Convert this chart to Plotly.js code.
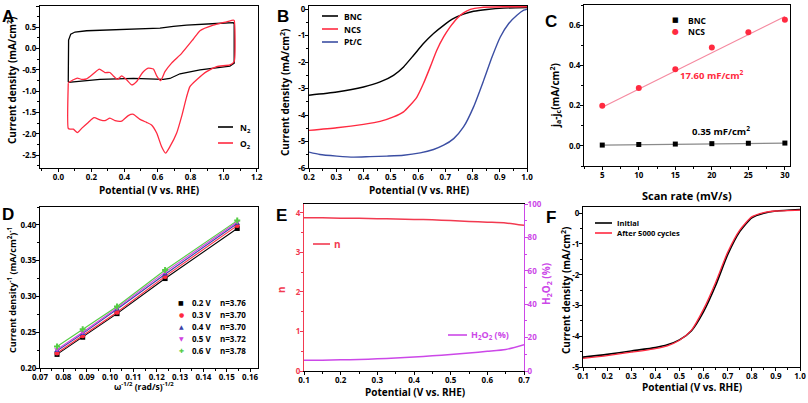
<!DOCTYPE html>
<html>
<head>
<meta charset="utf-8">
<script src="https://cdn.plot.ly/plotly-3.0.1.min.js"></script>
<style>
  html, body { margin: 0; padding: 0; background: #fff; }
  #chart { width: 808px; height: 403px; }
</style>
</head>
<body>
<div id="chart"></div>
<script>
// ---- Panel A: CV in N2 / O2 ----
const aN2X = [0.060, 0.062, 0.075, 0.101, 0.171, 0.454, 0.615, 0.696, 0.776, 0.958, 1.058, 1.064,
  1.064, 1.038, 0.937, 0.857, 0.736, 0.675, 0.635, 0.454, 0.252, 0.111, 0.060];
const aN2Y = [-0.79, 0.20, 0.34, 0.39, 0.42, 0.45, 0.48, 0.52, 0.55, 0.59, 0.61, 0.58,
  -0.34, -0.41, -0.47, -0.50, -0.59, -0.70, -0.72, -0.70, -0.72, -0.76, -0.79];
const aO2X = [0.060, 0.091, 0.115, 0.141, 0.171, 0.212, 0.248, 0.282, 0.312, 0.333, 0.357, 0.383,
  0.413, 0.444, 0.474, 0.510, 0.544, 0.575, 0.595, 0.619, 0.645, 0.685, 0.746, 0.816, 0.857,
  0.937, 1.018, 1.058, 1.064, 1.064, 1.038, 0.958, 0.897, 0.837, 0.796, 0.776, 0.746, 0.716,
  0.675, 0.649, 0.625, 0.595, 0.564, 0.534, 0.494, 0.454, 0.423, 0.383, 0.343, 0.312, 0.282,
  0.252, 0.216, 0.181, 0.141, 0.115, 0.091, 0.071, 0.060, 0.060];
const aO2Y = [-0.80, -0.73, -0.69, -0.72, -0.71, -0.59, -0.48, -0.56, -0.56, -0.64, -0.72, -0.64,
  -0.73, -0.85, -0.77, -0.56, -0.46, -0.48, -0.64, -0.75, -0.54, -0.34, -0.11, 0.22, 0.42,
  0.55, 0.63, 0.67, 0.66, -0.30, -0.38, -0.42, -0.54, -0.73, -0.89, -1.13, -1.59, -1.98,
  -2.30, -2.45, -2.30, -1.98, -1.79, -1.73, -1.66, -1.54, -1.57, -1.70, -1.69, -1.63, -1.69,
  -1.67, -1.62, -1.73, -1.87, -1.97, -1.89, -1.89, -1.87, -0.81];
const aYTicks = [1.0, 0.5, 0, -0.5, -1.0, -1.5, -2.0, -2.5];
const aYLabels = ['1.0', '0.5', '0.0', '-0.5', '-1.0', '-1.5', '-2.0', '-2.5'];

// ---- Panel B: LSV ----
const bBncX = [0.2, 0.302, 0.4, 0.461, 0.51, 0.547, 0.584, 0.62, 0.657, 0.694, 0.731, 0.767, 0.804, 0.853, 0.914, 1.0];
const bBncY = [-3.25, -3.13, -2.94, -2.75, -2.50, -2.18, -1.74, -1.30, -0.92, -0.61, -0.35, -0.19, -0.08, -0.01, 0.04, 0.06];
const bNcsX = [0.2, 0.302, 0.4, 0.461, 0.51, 0.547, 0.571, 0.596, 0.62, 0.645, 0.669, 0.694, 0.718, 0.743, 0.767, 0.792, 0.829, 0.914, 1.0];
const bNcsY = [-4.58, -4.48, -4.35, -4.24, -4.07, -3.88, -3.63, -3.32, -2.81, -2.18, -1.55, -1.05, -0.67, -0.35, -0.14, -0.01, 0.06, 0.09, 0.09];
const bPtX = [0.2, 0.24, 0.302, 0.363, 0.424, 0.486, 0.547, 0.608, 0.657, 0.694, 0.731, 0.767, 0.804, 0.841, 0.872, 0.902, 0.933, 0.963, 0.988, 1.0];
const bPtY = [-5.40, -5.49, -5.55, -5.59, -5.57, -5.55, -5.52, -5.43, -5.30, -5.14, -4.89, -4.45, -3.69, -2.69, -1.80, -1.05, -0.54, -0.23, -0.04, 0.0];
const bYTicks = [0, -1, -2, -3, -4, -5, -6];
const bYLabels = ['0', '-1', '-2', '-3', '-4', '-5', '-6'];

// ---- Panel C: double-layer capacitance ----
const cScan = [5, 10, 15, 20, 25, 30];
const cBnc = [0.004, 0.007, 0.009, 0.011, 0.013, 0.014];
const cNcs = [0.199, 0.287, 0.381, 0.489, 0.564, 0.627];
const cFitX = [5, 30];
const cBncFit = [0.004, 0.014];
const cNcsFit = [0.192, 0.643];

// ---- Panel D: K-L plots ----
const dX = [0.0773, 0.0883, 0.1030, 0.1236, 0.1545];
const d02 = [0.219, 0.243, 0.276, 0.325, 0.395];
const d03 = [0.221, 0.245, 0.278, 0.328, 0.399];
const d04 = [0.224, 0.248, 0.282, 0.331, 0.402];
const d05 = [0.226, 0.250, 0.284, 0.334, 0.404];
const d06 = [0.230, 0.254, 0.286, 0.337, 0.406];
const dNames = ['0.2 V', '0.3 V', '0.4 V', '0.5 V', '0.6 V'];
const dN = ['n=3.76', 'n=3.70', 'n=3.70', 'n=3.72', 'n=3.78'];

// ---- Panel E: n and H2O2 yield ----
const eX = [0.1, 0.15, 0.2, 0.25, 0.3, 0.35, 0.4, 0.45, 0.5, 0.55, 0.6, 0.65, 0.7];
const eN = [3.87, 3.87, 3.86, 3.86, 3.85, 3.84, 3.83, 3.82, 3.80, 3.78, 3.76, 3.74, 3.68];
const eH2O2 = [6.5, 6.5, 6.7, 6.9, 7.3, 7.8, 8.4, 9.1, 9.9, 10.8, 11.8, 12.9, 15.8];

// ---- Panel F: stability ----
const fX = [0.1, 0.2, 0.3, 0.4, 0.45, 0.5, 0.55, 0.6, 0.65, 0.7, 0.75, 0.8, 0.85, 0.9, 1.0];
const fInit = [-4.68, -4.59, -4.48, -4.37, -4.28, -4.12, -3.82, -3.20, -2.35, -1.35, -0.60, -0.15, 0.0, 0.07, 0.12];
const fAfter = [-4.72, -4.63, -4.52, -4.40, -4.31, -4.13, -3.80, -3.12, -2.25, -1.27, -0.55, -0.12, 0.02, 0.07, 0.10];
const fYTicks = [0, -1, -2, -3, -4, -5];
const fYLabels = ['0', '-1', '-2', '-3', '-4', '-5'];

const W = 808, H = 403;
const px = x => x / W;
const py = y => 1 - y / H;
const FONT = 'Open Sans';
const RED = '#ff2a40', BLUE = '#3b4ea3', MAG = '#cc48e8', ERED = '#f23a50';

function axis(d0, d1, range, anchor, extra, minorDtick) {
  const a = {
    domain: [d0, d1], range: range, anchor: anchor,
    showline: true, linecolor: '#000', linewidth: 1, mirror: true,
    ticks: 'outside', ticklen: 3, tickwidth: 1, tickcolor: '#000',
    ticklabelstandoff: -2,
    showgrid: false, zeroline: false,
    tickfont: { family: FONT, size: 8, weight: 'bold', color: '#000' }
  };
  if (minorDtick) a.minor = { ticks: 'outside', ticklen: 2, tickcolor: '#000', dtick: minorDtick, tick0: 0, showgrid: false };
  return Object.assign(a, extra || {});
}

function line(x, y, color, xa, ya, width) {
  return { x, y, xaxis: xa, yaxis: ya, mode: 'lines', type: 'scatter',
    line: { color, width: width || 1.4, shape: 'spline', smoothing: 0.6 }, hoverinfo: 'skip' };
}

// text placed by pixel centre (anchors fixed, not 'auto')
function txt(x, y, text, size, color, extra) {
  return Object.assign({ xref: 'paper', yref: 'paper', x: px(x), y: py(y), text: text, showarrow: false,
    xanchor: 'center', yanchor: 'middle',
    font: { family: FONT, size: size, color: color || '#000', weight: 'bold' } }, extra || {});
}

function legLine(x0, x1, y, color) {
  return { type: 'line', xref: 'paper', yref: 'paper', x0: px(x0), x1: px(x1), y0: py(y), y1: py(y),
    line: { color, width: 1.6 } };
}

const traces = [
  // A
  { x: aN2X, y: aN2Y, xaxis: 'x', yaxis: 'y', mode: 'lines', line: { color: '#000', width: 1.3 } },
  { x: aO2X, y: aO2Y, xaxis: 'x', yaxis: 'y', mode: 'lines', line: { color: RED, width: 1.3, shape: 'spline', smoothing: 0.5 } },
  // B
  line(bBncX, bBncY, '#000', 'x2', 'y2'),
  line(bNcsX, bNcsY, RED, 'x2', 'y2'),
  line(bPtX, bPtY, BLUE, 'x2', 'y2'),
  // C
  { x: cFitX, y: cBncFit, xaxis: 'x3', yaxis: 'y3', mode: 'lines', line: { color: '#8a8a8a', width: 1.2 } },
  { x: cFitX, y: cNcsFit, xaxis: 'x3', yaxis: 'y3', mode: 'lines', line: { color: '#f58aa0', width: 1.2 } },
  { x: cScan, y: cBnc, xaxis: 'x3', yaxis: 'y3', mode: 'markers', marker: { symbol: 'square', size: 5, color: '#000' } },
  { x: cScan, y: cNcs, xaxis: 'x3', yaxis: 'y3', mode: 'markers', marker: { symbol: 'circle', size: 6, color: RED } },
  // E
  line(eX, eN, ERED, 'x5', 'y5', 1.5),
  line(eX, eH2O2, MAG, 'x5', 'y7', 1.5),
  // F
  line(fX, fInit, '#000', 'x6', 'y6', 1.6),
  line(fX, fAfter, RED, 'x6', 'y6', 1.3)
];

// D: one trace per potential
const dSeries = [d02, d03, d04, d05, d06];
const dColors = ['#000', RED, '#3b3fa8', '#d040e0', '#55cc44'];
const dSymbols = ['square', 'circle', 'triangle-up', 'triangle-down', 'cross'];
dSeries.forEach((s, i) => {
  traces.push({ x: dX, y: s, xaxis: 'x4', yaxis: 'y4', mode: 'lines+markers',
    line: { color: dColors[i], width: 1.1 }, marker: { symbol: dSymbols[i], size: 5, color: dColors[i] } });
});

const layout = {
  width: W, height: H,
  margin: { l: 0, r: 0, t: 0, b: 0 },
  paper_bgcolor: '#fff', plot_bgcolor: '#fff',
  showlegend: false,
  font: { family: FONT, size: 8, color: '#000' },
  xaxis: axis(px(40), px(258), [-0.111, 1.208], 'y', { dtick: 0.2, tick0: 0, tickformat: '.1f' }, 0.1),
  yaxis: axis(py(168), py(6), [-2.8, 1.0], 'x', { tickmode: 'array', tickvals: aYTicks, ticktext: aYLabels }, 0.25),
  xaxis2: axis(px(309), px(527), [0.2, 1.0], 'y2', { dtick: 0.1, tick0: 0, tickformat: '.1f' }, 0.05),
  yaxis2: axis(py(168), py(6), [-6, 0.12], 'x2', { tickmode: 'array', tickvals: bYTicks, ticktext: bYLabels }, 0.5),
  xaxis3: axis(px(584), px(790), [2.5, 30.7], 'y3', { dtick: 5, tick0: 0 }, 2.5),
  yaxis3: axis(py(166), py(5), [-0.1, 0.70], 'x3', { dtick: 0.2, tick0: 0, tickformat: '.1f' }, 0.1),
  xaxis4: axis(px(40), px(258), [0.07, 0.1634], 'y4', { dtick: 0.01, tick0: 0, tickformat: '.2f' }, 0.005),
  yaxis4: axis(py(368), py(207), [0.2, 0.425], 'x4', { dtick: 0.05, tick0: 0, tickformat: '.2f' }, 0.025),
  xaxis5: axis(px(304), px(524), [0.1, 0.7], 'y5', { dtick: 0.1, tick0: 0, tickformat: '.1f' }, 0.05),
  yaxis5: axis(py(371), py(204), [0, 4.22], 'x5', { dtick: 1, tick0: 0, mirror: false, linecolor: ERED, tickcolor: ERED,
    tickfont: { family: FONT, size: 8, weight: 'bold', color: ERED } }, 0.5),
  yaxis7: axis(py(371), py(204), [0, 100], 'x5', { dtick: 20, tick0: 0, overlaying: 'y5', side: 'right', mirror: false,
    linecolor: MAG, tickcolor: MAG, tickfont: { family: FONT, size: 8, weight: 'bold', color: MAG } }, 10),
  xaxis6: axis(px(583), px(800), [0.1, 1.0], 'y6', { dtick: 0.1, tick0: 0, tickformat: '.1f' }, 0.05),
  yaxis6: axis(py(367), py(207), [-5, 0.2], 'x6', { tickmode: 'array', tickvals: fYTicks, ticktext: fYLabels }, 0.5),
  shapes: [],
  annotations: []
};
layout.yaxis5.minor.tickcolor = ERED;
layout.yaxis7.minor.tickcolor = MAG;

const ann = layout.annotations, shp = layout.shapes;
const LET = { family: 'Liberation Sans', size: 17, color: '#000', weight: 'bold' };
[['A', 8, 16], ['B', 283, 17], ['C', 551, 21], ['D', 8, 214], ['E', 281, 215], ['F', 551, 217]].forEach(l => {
  ann.push({ xref: 'paper', yref: 'paper', x: px(l[1]), y: py(l[2]), text: l[0], showarrow: false,
    xanchor: 'center', yanchor: 'middle', font: LET });
});

// axis titles
const rot = { textangle: -90 };
ann.push(txt(149, 190, 'Potential (V vs. RHE)', 10));
ann.push(txt(12, 80, 'Current density (mA/cm<sup>2</sup>)', 10, '#000', rot));
ann.push(txt(419, 190, 'Potential (V vs. RHE)', 10));
ann.push(txt(285, 92, 'Current density (mA/cm<sup>2</sup>)', 10, '#000', rot));
ann.push(txt(687, 195, 'Scan rate (mV/s)', 11));
ann.push(txt(555, 96, 'j<sub>a</sub>-j<sub>c</sub>(mA/cm<sup>2</sup>)', 10, '#000', rot));
ann.push(txt(144, 386, 'ω<sup>-1/2</sup> (rad/s)<sup>-1/2</sup>', 8.5));
ann.push(txt(12, 290, 'Current density<sup>-1</sup> (mA/cm<sup>2</sup>)<sup>-1</sup>', 9, '#000', rot));
ann.push(txt(415, 392, 'Potential (V vs. RHE)', 10));
ann.push(txt(281, 290, 'n', 10, ERED, rot));
ann.push(txt(546, 284, 'H<sub>2</sub>O<sub>2</sub> (%)', 10, MAG, rot));
ann.push(txt(692, 387, 'Potential (V vs. RHE)', 10));
ann.push(txt(566, 290, 'Current density (mA/cm<sup>2</sup>)', 10, '#000', rot));

// legends drawn by hand
const left = { xanchor: 'left' };
shp.push(legLine(218, 233, 127, '#000'), legLine(218, 233, 143, RED));
ann.push(txt(238, 128, 'N<sub>2</sub>', 8.5, '#000', left), txt(238, 144, 'O<sub>2</sub>', 8.5, '#000', left));

shp.push(legLine(322, 338, 16, '#000'), legLine(322, 338, 29, RED), legLine(322, 338, 42, BLUE));
ann.push(txt(342, 16, 'BNC', 8.5, '#000', left), txt(342, 29, 'NCS', 8.5, '#000', left), txt(342, 42, 'Pt/C', 8.5, '#000', left));

ann.push(txt(675, 20, '■', 7, '#000', { font: { family: 'DejaVu Sans', size: 7, color: '#000' } }));
ann.push(txt(675, 32, '●', 7, RED, { font: { family: 'DejaVu Sans', size: 8, color: RED } }));
ann.push(txt(686, 20, 'BNC', 8.5, '#000', left), txt(686, 32, 'NCS', 8.5, '#000', left));
ann.push(txt(712, 75, '17.60 mF/cm<sup>2</sup>', 9.5, RED));
ann.push(txt(721, 131, '0.35 mF/cm<sup>2</sup>', 9.5, '#000'));

const dGlyphs = ['■', '●', '▲', '▼', '✚'];
dNames.forEach((nm, i) => {
  const y = 302 + i * 12.1;
  ann.push(txt(181, y, dGlyphs[i], 6, dColors[i], { font: { family: 'DejaVu Sans', size: 6, color: dColors[i] } }));
  ann.push(txt(190, y, nm, 8, '#000', left), txt(218, y, dN[i], 8, '#000', left));
});

shp.push(legLine(313, 330, 244, ERED), legLine(448, 467, 335, MAG));
ann.push(txt(332, 244, 'n', 10, ERED, left), txt(469, 335, 'H<sub>2</sub>O<sub>2</sub> (%)', 9, MAG, left));

shp.push(legLine(595, 612, 223, '#000'), legLine(595, 612, 233, RED));
ann.push(txt(615, 223, 'Initial', 7.5, '#000', left), txt(615, 233, 'After 5000 cycles', 7.5, '#000', left));

Plotly.newPlot('chart', traces, layout, { staticPlot: true });
</script>
</body>
</html>
